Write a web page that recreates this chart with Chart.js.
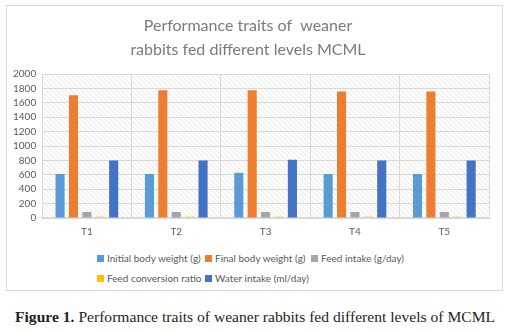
<!DOCTYPE html>
<html>
<head>
<meta charset="utf-8">
<script src="https://cdn.jsdelivr.net/npm/chart.js@4.4.9/dist/chart.umd.min.js"></script>
<style>
  body { margin: 0; background: #fff; }
  #wrap { position: relative; width: 507px; height: 332px; }
  #box { position: absolute; left: 6px; top: 5px; width: 495px; height: 284px; border: 1px solid #d9d9d9; }
  #chart { position: absolute; left: 0; top: 0; }
  #legend { position: absolute; left: 90px; top: 245px; display: grid;
    grid-template-columns: 108px 106px auto; row-gap: 6px;
    font: 10px Lato, sans-serif; color: #595959; }
  #legend span.item { display: flex; align-items: center; height: 14px; }
  #legend i { display: inline-block; width: 7px; height: 7px; margin-right: 3px; }
  #caption { position: absolute; left: 15px; top: 308px; white-space: nowrap;
    font: 15.6px "Liberation Serif", serif; color: #231f20; }
</style>
</head>
<body>
<div id="wrap">
  <div id="box">
    <canvas id="chart" width="495" height="240"></canvas>
    <div id="legend"></div>
  </div>
  <div id="caption"><b>Figure 1.</b> Performance traits of weaner rabbits fed different levels of MCML</div>
</div>
<script>
const categories = ["T1", "T2", "T3", "T4", "T5"];
const initialWeight = [612, 612, 628, 612, 612];
const finalWeight = [1705, 1775, 1775, 1758, 1758];
const feedIntake = [85, 85, 85, 85, 85];
const feedConversion = [3.2, 3.1, 3.0, 3.1, 3.1];
const waterIntake = [797, 797, 808, 797, 797];

const seriesNames = ["Initial body weight (g)", "Final body weight (g)", "Feed intake (g/day)",
  "Feed conversion ratio", "Water intake (ml/day)"];
const seriesColors = ["#5B9BD5", "#ED7D31", "#A5A5A5", "#FFC000", "#4472C4"];
const seriesData = [initialWeight, finalWeight, feedIntake, feedConversion, waterIntake];

// diagonal hatch behind the plot area
function hatch() {
  const c = document.createElement("canvas");
  c.width = 5; c.height = 5;
  const g = c.getContext("2d");
  g.fillStyle = "#fff";
  g.fillRect(0, 0, 5, 5);
  g.strokeStyle = "#e6e6e6";
  g.lineWidth = 1;
  g.beginPath();
  g.moveTo(-1, -1); g.lineTo(6, 6);
  g.moveTo(-1, 4); g.lineTo(1, 6);
  g.moveTo(4, -1); g.lineTo(6, 1);
  g.stroke();
  return g.createPattern(c, "repeat");
}

const areaBg = {
  id: "areaBg",
  beforeDraw(chart) {
    const { ctx, chartArea: a } = chart;
    ctx.save();
    ctx.fillStyle = hatch();
    ctx.fillRect(a.left, a.top, a.right - a.left, a.bottom - a.top);
    ctx.restore();
  }
};

new Chart(document.getElementById("chart"), {
  type: "bar",
  data: {
    labels: categories,
    datasets: seriesNames.map((name, i) => ({
      label: name,
      data: seriesData[i],
      backgroundColor: i === 3 ? "rgba(255,192,0,0.35)" : seriesColors[i],
      minBarLength: i === 3 ? 2 : 0,
      barPercentage: 0.68,
      categoryPercentage: 0.75
    }))
  },
  options: {
    responsive: false,
    animation: false,
    layout: { padding: { left: 0, right: 13, top: 0, bottom: 0 } },
    plugins: {
      legend: { display: false },
      tooltip: { enabled: false },
      title: {
        display: true,
        text: ["Performance traits of  weaner", "rabbits fed different levels MCML"],
        color: "#7a7a7a",
        font: { family: "Lato", size: 16, weight: "normal", lineHeight: 1.5 },
        padding: { top: 8, bottom: 12 }
      }
    },
    scales: {
      x: {
        grid: { color: "#d9d9d9", drawTicks: false, offset: true },
        border: { color: "#d9d9d9", width: 2 },
        ticks: { color: "#595959", font: { family: "Lato", size: 10 }, padding: 8 }
      },
      y: {
        min: 0, max: 2000,
        grid: { color: "#d9d9d9", drawTicks: false },
        border: { display: false },
        ticks: {
          stepSize: 200, autoSkip: false, color: "#595959",
          font: { family: "Lato", size: 10 }, padding: 6,
          callback: (v) => String(v)
        }
      }
    }
  },
  plugins: [areaBg]
});

const legend = document.getElementById("legend");
seriesNames.forEach((name, i) => {
  const s = document.createElement("span");
  s.className = "item";
  s.innerHTML = '<i style="background:' + seriesColors[i] + '"></i>' + name;
  legend.appendChild(s);
});
</script>
</body>
</html>
